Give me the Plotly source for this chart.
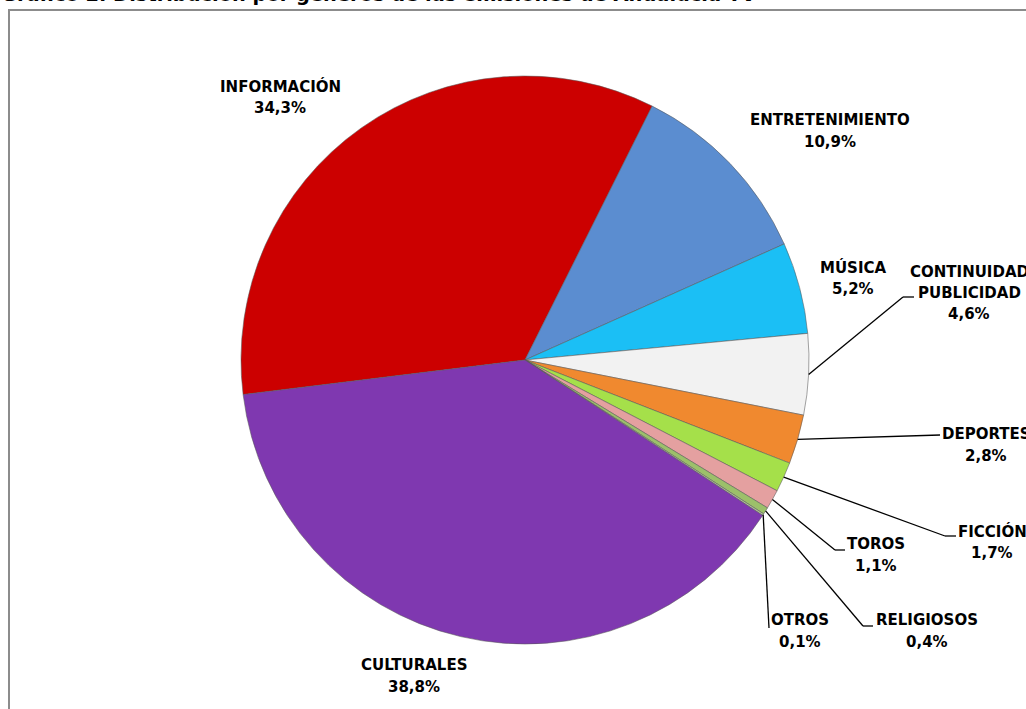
import math
import plotly.graph_objects as go

# ---------------- data ----------------
genres = ["INFORMACIÓN", "ENTRETENIMIENTO", "MÚSICA", "CONTINUIDAD PUBLICIDAD",
          "DEPORTES", "FICCIÓN", "TOROS", "RELIGIOSOS", "OTROS", "CULTURALES"]
shares = [34.3, 10.9, 5.2, 4.6, 2.8, 1.7, 1.1, 0.4, 0.1, 38.8]
share_labels = ["34,3%", "10,9%", "5,2%", "4,6%", "2,8%", "1,7%", "1,1%", "0,4%", "0,1%", "38,8%"]
label_lines = [["INFORMACIÓN"], ["ENTRETENIMIENTO"], ["MÚSICA"], ["CONTINUIDAD", "PUBLICIDAD"],
               ["DEPORTES"], ["FICCIÓN"], ["TOROS"], ["RELIGIOSOS"], ["OTROS"], ["CULTURALES"]]
colors = ["#CC0000", "#5B8DD0", "#1BBFF5", "#F2F2F2", "#F0892F",
          "#A5E04A", "#E4A0A0", "#9CC06A", "#B4C49C", "#7F38B0"]
title = "Gráfico 2. Distribución por géneros de las emisiones de Andalucía TV"

# ---------------- layout constants (pixels) ----------------
W, H = 1026, 709
CX, CY, R = 525, 360, 284
ROTATION = -97
FONT = "DejaVu Sans"
FS = 15
LINE_H = 22

# label block centres: (x centre, y of first line)
label_pos = {
    0: (280, 86), 1: (830, 120), 2: (853, 267), 3: (969, 272),
    4: (986, 434), 5: (992, 531), 6: (876, 544), 7: (927, 620),
    8: (800, 620), 9: (414, 665),
}
# leader line waypoints after the slice edge point (pixels)
leaders = {
    3: [(903, 297), (914, 297)],
    4: [(940, 435)],
    5: [(945, 536), (956, 536)],
    6: [(835, 550), (845, 550)],
    7: [(863, 626), (873, 626)],
    8: [(769, 628)],
}


def px(x):
    return x / W


def py(y):
    return 1 - y / H


fig = go.Figure()
fig.add_trace(go.Pie(
    labels=genres, values=shares, sort=False, direction="clockwise",
    rotation=ROTATION, textinfo="none", showlegend=False,
    marker=dict(colors=colors, line=dict(color="rgba(90,90,90,0.55)", width=1)),
    domain=dict(x=[px(CX - R), px(CX + R)], y=[py(CY + R), py(CY - R)]),
))

annotations = []
for i, lines in enumerate(label_lines):
    cx, y0 = label_pos[i]
    for j, t in enumerate(lines + [share_labels[i]]):
        annotations.append(dict(
            x=px(cx), y=py(y0 + j * (LINE_H if len(lines) == 1 else 21)),
            xref="paper", yref="paper", text=f"<b>{t}</b>", showarrow=False,
            xanchor="center", yanchor="middle",
            font=dict(family=FONT, size=FS, color="black"),
        ))

annotations.append(dict(
    x=px(-1), y=py(-6), xref="paper", yref="paper", text=f"<b>{title}</b>",
    showarrow=False, xanchor="left", yanchor="middle",
    font=dict(family=FONT, size=19.4, color="black"),
))

shapes = []
total = sum(shares)
cum = 0.0
for i, v in enumerate(shares):
    mid = cum + v / 2
    cum += v
    if i not in leaders:
        continue
    ang = math.radians(ROTATION + 360 * mid / total)
    sx, sy = CX + R * math.sin(ang), CY - R * math.cos(ang)
    pts = [(sx, sy)] + leaders[i]
    for (x0, y0), (x1, y1) in zip(pts[:-1], pts[1:]):
        shapes.append(dict(type="line", xref="paper", yref="paper",
                           x0=px(x0), y0=py(y0), x1=px(x1), y1=py(y1),
                           line=dict(color="black", width=1.3)))

# chart frame
shapes.append(dict(type="rect", xref="paper", yref="paper",
                   x0=px(9), y0=py(10), x1=px(1040), y1=py(720),
                   line=dict(color="#8C8C8C", width=2), fillcolor="rgba(0,0,0,0)"))

fig.update_layout(
    width=W, height=H, margin=dict(l=0, r=0, t=0, b=0),
    paper_bgcolor="white", plot_bgcolor="white",
    annotations=annotations, shapes=shapes,
)

fig.write_html("out.html", config={"displayModeBar": False},
               post_script="document.body.style.margin='0';document.body.style.overflow='hidden';")
